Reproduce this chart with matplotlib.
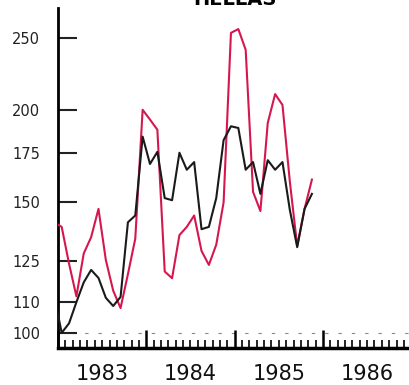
import matplotlib
matplotlib.use('Agg')
import matplotlib.pyplot as plt
import matplotlib.ticker as mticker
import matplotlib.transforms as mtransforms

# Monthly series, Dec 1982 .. Nov 1985 (plotted mid-month, months from Jan 1983)
months = [i + 0.5 for i in range(-1, 35)]
black_vals = [112, 100, 103, 110, 117, 121.6, 118.6, 111.5, 108.7, 111.8,
              141, 144, 184, 169, 175.5, 152, 151, 175, 166, 170,
              138, 139, 152, 182, 190, 189, 166, 170, 154, 171,
              166, 170, 146.5, 130.5, 147, 154]
red_vals = [141, 139, 124, 112, 128, 134.6, 147, 125.4, 114, 108,
            120, 134, 200, 194, 188, 121, 118.5, 135.5, 139, 144,
            129, 123.5, 131.5, 150, 254, 257, 241, 155, 146, 192,
            210, 203, 160, 131, 147, 161]
ytick_vals = [100, 110, 125, 150, 175, 200, 250]
years = ['1983', '1984', '1985', '1986']

fig = plt.figure(figsize=(4.09, 3.85), dpi=100)
ax = fig.add_axes([58 / 409, 37 / 385, 351 / 409, 340 / 385])

ax.axhline(100, color='#888888', lw=0.8, ls=(0, (3, 9)), zorder=1)
ax.plot(months, red_vals, color='#d6174f', lw=1.5, zorder=3)
ax.plot(months, black_vals, color='#1a1a1a', lw=1.5, zorder=4)

ax.set_yscale('log')
ax.set_ylim(95.4, 274.4)
ax.set_xlim(0, 351 / 7.36)

ax.yaxis.set_major_locator(mticker.FixedLocator(ytick_vals))
ax.yaxis.set_minor_locator(mticker.NullLocator())
ax.yaxis.set_major_formatter(mticker.FixedFormatter([str(v) for v in ytick_vals]))
ax.tick_params(axis='y', direction='in', length=14, width=1.5, pad=13,
               labelsize=10.5, colors='#222222')

ax.xaxis.set_major_locator(mticker.FixedLocator([0, 12, 24, 36, 48]))
ax.xaxis.set_minor_locator(mticker.MultipleLocator(1))
ax.xaxis.set_major_formatter(mticker.NullFormatter())
ax.tick_params(axis='x', which='major', direction='in', length=13, width=1.8)
ax.tick_params(axis='x', which='minor', direction='in', length=6, width=1.2)

for s in ['top', 'right']:
    ax.spines[s].set_visible(False)
ax.spines['left'].set_linewidth(2)
ax.spines['bottom'].set_linewidth(2.5)

trans = mtransforms.blended_transform_factory(ax.transData, ax.transAxes)
for k, yr in enumerate(years):
    ax.text(12 * k + 6, -0.075, yr, transform=trans, ha='center', va='center',
            fontsize=15, color='#111111', clip_on=False)

fig.text(0.575, 0.987, 'HELLAS', ha='center', va='baseline',
         fontsize=14, fontweight='bold')

plt.savefig('out.png', dpi=100)
